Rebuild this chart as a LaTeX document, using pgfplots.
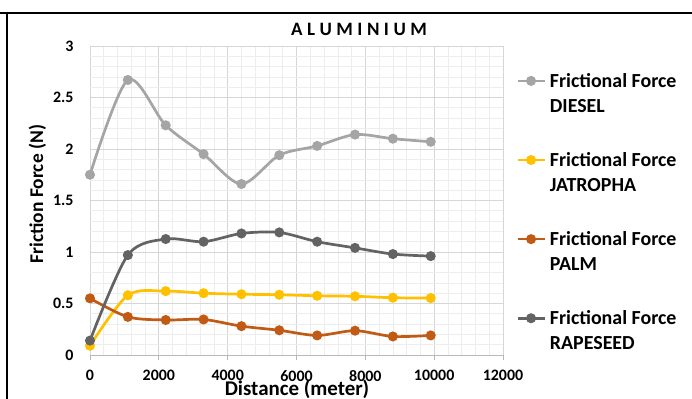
\documentclass[border=0pt]{standalone}
\usepackage{fontspec}
\setmainfont{Carlito}
\usepackage{pgfplots}
\pgfplotsset{compat=1.18}
\definecolor{cdiesel}{HTML}{A5A5A5}
\definecolor{cjat}{HTML}{FFC000}
\definecolor{cpalm}{HTML}{C05A14}
\definecolor{crape}{HTML}{636363}
\begin{document}
\begin{tikzpicture}
\useasboundingbox (0,0) rectangle (692bp,399bp);
\fill[white] (0,0) rectangle (692bp,399bp);
\begin{axis}[
  at={(90bp,44bp)}, anchor=south west,
  width=413bp, height=309bp, scale only axis,
  xmin=0, xmax=12000, ymin=0, ymax=3,
  xtick={0,2000,4000,6000,8000,10000,12000},
  ytick={0,0.5,1,1.5,2,2.5,3},
  minor x tick num=4, minor y tick num=4,
  grid=both,
  major grid style={draw=black!16, line width=0.8bp},
  minor grid style={draw=black!7, line width=0.6bp},
  axis x line*=bottom, axis y line*=left,
  y axis line style={draw=none},
  x axis line style={draw=black!28, line width=1bp},
  xtick style={draw=black!28, line width=1bp},
  ytick style={draw=none},
  major tick length=5bp, minor tick length=0pt,
  tick align=outside,
  scaled x ticks=false,
  /pgf/number format/assume math mode=true,
  x tick label style={/pgf/number format/1000 sep={}, yshift=-7bp},
  y tick label style={xshift=-8bp},
  tick label style={font=\fontsize{16}{19}\selectfont\bfseries},
  clip=false,
  legend cell align=left,
  legend style={at={(rel axis cs:1,1)}, anchor=north west, xshift=13bp, yshift=-25bp,
    draw=none, fill=none, inner sep=0pt, row sep=34.7bp, column sep=2bp,
    font=\fontsize{20}{25}\selectfont\bfseries,
    nodes={align=left, inner sep=2bp}},
  legend image code/.code={\draw[mark repeat=2,mark phase=2,#1,yshift=12.5bp] plot coordinates {(0bp,0bp) (13.5bp,0bp) (27bp,0bp)};},
  every axis plot/.append style={line width=2.7bp, mark=*, mark size=3.6bp, smooth},
]
\addplot[color=cdiesel, mark options={fill=cdiesel}] coordinates {
(0,1.75) (1100,2.67) (2200,2.23) (3300,1.95) (4400,1.66) (5500,1.94) (6600,2.03) (7700,2.14) (8800,2.10) (9900,2.07)};
\addlegendentry{Frictional Force\\DIESEL}
\addplot[color=cjat, mark options={fill=cjat}] coordinates {
(0,0.09) (1100,0.58) (2200,0.62) (3300,0.60) (4400,0.59) (5500,0.585) (6600,0.575) (7700,0.57) (8800,0.556) (9900,0.553)};
\addlegendentry{Frictional Force\\JATROPHA}
\addplot[color=cpalm, mark options={fill=cpalm}] coordinates {
(0,0.55) (1100,0.37) (2200,0.34) (3300,0.345) (4400,0.28) (5500,0.24) (6600,0.19) (7700,0.236) (8800,0.18) (9900,0.19)};
\addlegendentry{Frictional Force\\PALM}
\addplot[color=crape, mark options={fill=crape}] coordinates {
(0,0.14) (1100,0.97) (2200,1.126) (3300,1.10) (4400,1.18) (5500,1.19) (6600,1.10) (7700,1.04) (8800,0.98) (9900,0.96)};
\addlegendentry{Frictional Force\\RAPESEED}
\end{axis}
\node[anchor=base, font=\fontsize{19}{22}\selectfont\bfseries] at (359bp,363.7bp) {A\kern4.5bp L\kern4.5bp U\kern4.5bp M\kern4.5bp I\kern4.5bp N\kern4.5bp I\kern4.5bp U\kern4.5bp M};
\node[anchor=base, font=\fontsize{21}{25}\selectfont\bfseries] at (297bp,4bp) {Distance (meter)};
\node[anchor=base, rotate=90, font=\fontsize{19.5}{23}\selectfont\bfseries] at (43bp,205bp) {Friction Force (N)};
\draw[line width=2.5bp] (0,386bp) -- (692bp,386bp);
\draw[line width=2bp] (7bp,386bp) -- (7bp,0);
\end{tikzpicture}
\end{document}
